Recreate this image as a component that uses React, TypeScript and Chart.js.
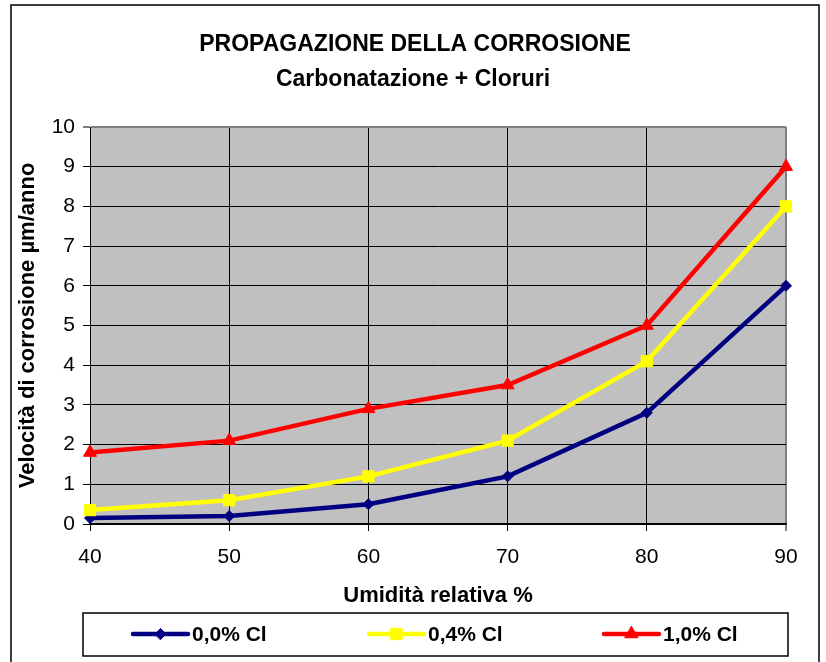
import { useEffect, useRef } from 'react';
import { Chart, registerables } from 'chart.js';

Chart.register(...registerables);

const humidity = [40, 50, 60, 70, 80, 90];
const cl00 = [0.15, 0.2, 0.5, 1.2, 2.8, 6.0];
const cl04 = [0.35, 0.6, 1.2, 2.1, 4.1, 8.0];
const cl10 = [1.8, 2.1, 2.9, 3.5, 5.0, 9.0];
const seriesNames = ['0,0% Cl', '0,4% Cl', '1,0% Cl'];
const seriesColors = ['#000080', '#FFFF00', '#FF0000'];
const seriesMarkers = ['rectRot', 'rect', 'triangle'];
const seriesRadius = [5.5, 8, 7.5];
const titleText = 'PROPAGAZIONE DELLA CORROSIONE';
const subtitleText = 'Carbonatazione + Cloruri';
const xTitle = 'Umidità relativa %';
const yTitle = 'Velocità di corrosione µm/anno';

const FONT = '"Liberation Sans", Arial, sans-serif';

function drawMarker(ctx: CanvasRenderingContext2D, style: string, x: number, y: number, r: number, color: string) {
  ctx.save();
  ctx.fillStyle = color;
  ctx.strokeStyle = color;
  ctx.lineWidth = 1;
  ctx.beginPath();
  if (style === 'rect') {
    const s = Math.SQRT1_2 * r;
    ctx.rect(x - s, y - s, 2 * s, 2 * s);
  } else if (style === 'rectRot') {
    ctx.moveTo(x - r, y);
    ctx.lineTo(x, y - r);
    ctx.lineTo(x + r, y);
    ctx.lineTo(x, y + r);
    ctx.closePath();
  } else {
    const a = (2 * Math.PI) / 3;
    ctx.moveTo(x, y - r);
    ctx.lineTo(x + Math.sin(a) * r, y - Math.cos(a) * r);
    ctx.lineTo(x + Math.sin(2 * a) * r, y - Math.cos(2 * a) * r);
    ctx.closePath();
  }
  ctx.fill();
  ctx.stroke();
  ctx.restore();
}

const decorPlugin = {
  id: 'decor',
  beforeDraw(chart: any) {
    const { ctx, chartArea } = chart;
    ctx.save();
    ctx.fillStyle = '#FFFFFF';
    ctx.fillRect(0, 0, chart.width, chart.height);
    ctx.strokeStyle = '#000000';
    ctx.lineWidth = 1.5;
    ctx.strokeRect(11, 5, 808, 700);
    ctx.fillStyle = '#C0C0C0';
    ctx.fillRect(chartArea.left, chartArea.top, chartArea.right - chartArea.left, chartArea.bottom - chartArea.top);
    ctx.restore();
  },
  afterDraw(chart: any) {
    const { ctx } = chart;
    ctx.save();
    ctx.fillStyle = '#000000';
    ctx.textAlign = 'center';
    ctx.textBaseline = 'middle';
    ctx.font = `bold 23px ${FONT}`;
    ctx.fillText(titleText, 415, 45);
    ctx.fillText(subtitleText, 413, 80);

    ctx.strokeStyle = '#000000';
    ctx.lineWidth = 1.5;
    ctx.strokeRect(83, 613, 705, 43);
    const starts = [133, 369, 604];
    const ly = 634;
    seriesNames.forEach((name, i) => {
      const x0 = starts[i];
      ctx.strokeStyle = seriesColors[i];
      ctx.lineWidth = 4.5;
      ctx.lineCap = 'round';
      ctx.beginPath();
      ctx.moveTo(x0, ly);
      ctx.lineTo(x0 + 55, ly);
      ctx.stroke();
      drawMarker(ctx, seriesMarkers[i], x0 + 27.5, ly, seriesRadius[i], seriesColors[i]);
      ctx.fillStyle = '#000000';
      ctx.textAlign = 'left';
      ctx.font = `bold 21px ${FONT}`;
      ctx.fillText(name, x0 + 59, ly + 1);
    });
    ctx.restore();
  },
};

export default function App() {
  const ref = useRef<HTMLCanvasElement | null>(null);

  useEffect(() => {
    if (!ref.current) return;
    const seriesData = [cl00, cl04, cl10];
    const chart = new Chart(ref.current, {
      type: 'line',
      data: {
        datasets: seriesData.map((vals, i) => ({
          label: seriesNames[i],
          data: humidity.map((h, j) => ({ x: h, y: vals[j] })),
          borderColor: seriesColors[i],
          backgroundColor: seriesColors[i],
          borderWidth: 4.5,
          pointStyle: seriesMarkers[i] as any,
          pointRadius: seriesRadius[i],
          pointBorderWidth: 1,
          pointBackgroundColor: seriesColors[i],
          pointBorderColor: seriesColors[i],
          tension: 0,
          clip: false as any,
          order: 2 - i,
        })),
      },
      options: {
        responsive: false,
        animation: false,
        devicePixelRatio: 1,
        events: [],
        layout: { padding: { top: 127, bottom: 52, left: 0, right: 40 } },
        plugins: {
          legend: { display: false },
          title: { display: false },
          tooltip: { enabled: false },
        },
        scales: {
          x: {
            type: 'linear',
            min: 40,
            max: 90,
            ticks: {
              stepSize: 10,
              color: '#000000',
              padding: 14,
              font: { family: FONT, size: 21 },
            },
            grid: {
              color: (c: any) => (c.tick && c.tick.value === 90 ? '#808080' : '#000000'),
              lineWidth: (c: any) => (c.tick && c.tick.value === 90 ? 2 : 1),
              tickColor: '#000000',
              tickLength: 7,
              tickWidth: 1,
              drawTicks: true,
            },
            border: { display: true, color: '#000000', width: 1.5 },
            title: {
              display: true,
              text: xTitle,
              color: '#000000',
              font: { family: FONT, size: 22, weight: 'bold' },
              padding: { top: 0, bottom: 1 },
            },
            afterFit: (s: any) => {
              s.height = 86;
            },
          },
          y: {
            type: 'linear',
            min: 0,
            max: 10,
            ticks: {
              stepSize: 1,
              color: '#000000',
              padding: 8,
              font: { family: FONT, size: 21 },
            },
            grid: {
              color: (c: any) => (c.tick && c.tick.value === 10 ? '#808080' : '#000000'),
              lineWidth: (c: any) => (c.tick && c.tick.value === 10 ? 2 : 1),
              tickColor: '#000000',
              tickLength: 7,
              tickWidth: 1,
              drawTicks: true,
            },
            border: { display: true, color: '#000000', width: 1 },
            title: {
              display: true,
              text: yTitle,
              color: '#000000',
              font: { family: FONT, size: 22, weight: 'bold' },
              padding: { top: 15, bottom: 0 },
            },
            afterFit: (s: any) => {
              s.width = 90;
            },
          },
        },
      },
      plugins: [decorPlugin],
    });
    return () => chart.destroy();
  }, []);

  return (
    <div style={{ position: 'absolute', left: 0, top: 0, width: 826, height: 662, background: '#fff' }}>
      <canvas ref={ref} width={826} height={662} style={{ width: 826, height: 662, display: 'block' }} />
    </div>
  );
}
